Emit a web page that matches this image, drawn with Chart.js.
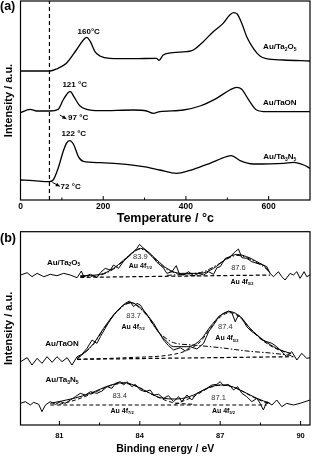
<!DOCTYPE html>
<html><head><meta charset="utf-8">
<script src="https://cdn.jsdelivr.net/npm/chart.js@4/dist/chart.umd.min.js"></script>
<style>
html,body{margin:0;padding:0;background:#fff;}
#wrap{position:relative;width:314px;height:457px;overflow:hidden;}
canvas{position:absolute;left:0;}
#ca{top:0;width:314px;height:228px;}
#cb{top:228px;width:314px;height:229px;}
</style></head><body>
<div id="wrap"><canvas id="ca" width="314" height="228"></canvas><canvas id="cb" width="314" height="229"></canvas></div>
<script>
// ---------- Panel (a): TPR-like curves ----------
const aTa2O5_T = [0,40,71,87,111,135,152,160,169,180,192,216,273,329,335,345,369,402,418,442,466,490,506,515,524,535,547,563,579,595,636,700];
const aTa2O5_I = [387,387,387,393,410,450,480,488,475,445,432,425,424,425,419,435,442,445,450,475,505,530,555,562,558,530,490,455,432,424,420,417];
const aTaON_T  = [0,23,39,71,91,103,115,121,129,144,160,192,273,305,321,337,394,434,474,506,523,535,551,571,595,700];
const aTaON_I  = [262,272,267,267,272,300,322,325,310,282,272,268,270,267,260,265,270,282,305,330,338,332,302,270,265,265];
const aTa3N5_T = [0,31,69,79,91,103,111,119,129,140,152,192,256,297,337,377,418,458,498,510,531,563,636,661,685,700];
const aTa3N5_I = [60,58,55,60,95,145,170,178,165,130,116,112,107,100,90,80,92,110,130,133,118,108,110,113,105,95];
const aMarkerT = 70;
const aTicks = [0,200,400,600];
const aMinorTicks = [100,300,500];

// ---------- Panel (b): XPS Au 4f ----------
const bTa2O5_E = [79.55,79.80,79.98,80.17,80.42,80.66,80.91,81.16,81.41,81.66,81.82,81.91,82.16,82.40,82.53,82.71,82.90,83.02,83.21,83.40,83.58,83.77,83.89,83.99,84.12,84.27,84.39,84.52,84.64,84.76,84.89,85.01,85.20,85.36,85.48,85.63,85.82,86.01,86.19,86.38,86.57,86.75,86.88,87.00,87.19,87.37,87.56,87.68,87.81,87.99,88.18,88.37,88.55,88.74,88.86,88.99,89.17,89.30,89.42,89.61,89.73,89.86,89.98,90.13,90.23,90.35];
const bTa2O5_I = [450,457,445,455,445,452,448,455,450,442,462,445,452,442,457,470,465,480,470,492,505,520,530,542,532,522,510,500,488,480,470,455,460,478,452,450,460,448,455,450,460,452,472,475,500,505,520,528,502,500,490,485,482,475,455,445,460,445,435,455,450,460,440,460,445,450];
const bTa2O5_fitE = [81.78,82.53,83.02,83.40,83.77,84.02,84.27,84.64,85.01,85.51,86.26,86.75,87.25,87.62,87.99,88.37,88.74,88.86];
const bTa2O5_fitI = [448,452,470,495,520,530,522,495,470,455,455,470,500,512,505,490,470,455];
const bTa2O5_c1E = [81.78,82.53,83.02,83.40,83.77,84.02,84.27,84.64,85.01,85.51,86.26];
const bTa2O5_c1I = [445,450,468,493,518,528,520,492,467,453,447];
const bTa2O5_c2E = [85.01,85.76,86.38,86.88,87.25,87.62,87.99,88.37,88.74,88.86];
const bTa2O5_c2I = [449,453,460,480,498,509,502,487,467,455];
const bTa2O5_bgE = [81.78,88.86];
const bTa2O5_bgI = [443,450];

const bTaON_E = [79.55,79.80,79.98,80.17,80.35,80.54,80.73,80.91,81.10,81.29,81.47,81.66,81.84,82.03,82.22,82.40,82.53,82.78,83.02,83.27,83.46,83.62,83.77,83.89,84.02,84.14,84.33,84.52,84.70,84.89,85.07,85.26,85.51,85.70,85.88,86.13,86.38,86.57,86.75,86.94,87.12,87.31,87.43,87.56,87.68,87.81,87.99,88.18,88.37,88.55,88.74,88.93,89.11,89.30,89.48,89.67,89.86,90.04,90.23,90.35];
const bTaON_I = [190,202,180,200,185,205,188,205,190,202,180,205,212,230,255,245,265,300,330,352,365,372,355,365,360,345,325,305,280,255,238,225,232,222,235,228,245,280,300,325,335,342,338,310,330,320,295,280,270,255,250,245,235,220,205,220,195,215,200,202];
const bTaON_fitE = [81.66,81.91,82.28,82.65,83.02,83.40,83.65,83.89,84.27,84.64,85.01,85.26,85.76,86.26,86.63,87.00,87.37,87.75,88.12,88.61,89.11,89.61];
const bTaON_fitI = [200,215,245,290,330,360,368,360,330,285,250,235,235,255,295,328,340,325,290,255,230,215];
const bTaON_c1E = [81.66,82.28,82.65,83.02,83.40,83.65,83.89,84.27,84.64,85.01,85.26,86.00,87.00,88.00,89.00,89.73];
const bTaON_c1I = [198,243,288,328,358,366,358,328,285,258,247,240,232,222,215,208];
const bTaON_c2E = [81.66,83.50,85.26,85.76,86.26,86.63,87.00,87.37,87.75,88.12,88.61,89.11,89.73];
const bTaON_c2I = [197,202,212,224,250,290,324,337,322,288,252,228,212];
const bTaON_bgE = [81.66,89.73];
const bTaON_bgI = [197,205];

const bTa3N5_E = [79.55,79.73,79.92,80.04,80.23,80.35,80.48,80.66,80.85,81.04,81.22,81.41,81.60,81.78,81.97,82.16,82.40,82.59,82.78,82.96,83.09,83.27,83.40,83.52,83.71,83.83,84.02,84.20,84.39,84.52,84.70,84.89,85.07,85.26,85.45,85.57,85.76,85.94,86.13,86.32,86.50,86.69,86.88,87.00,87.12,87.31,87.50,87.65,87.81,87.99,88.18,88.37,88.49,88.61,88.74,88.93,89.11,89.30,89.48,89.73,89.98,90.35];
const bTa3N5_I = [65,70,60,68,62,40,60,70,62,70,65,75,85,95,90,100,95,102,115,110,125,130,120,130,115,122,105,100,105,90,92,80,88,70,85,70,90,75,95,102,110,120,122,130,118,122,105,115,95,85,70,80,65,45,70,60,75,55,65,60,65,75];
const bTa3N5_fitE = [80.66,81.54,82.16,82.65,83.15,83.40,83.77,84.27,84.76,85.39,86.01,86.50,87.00,87.37,87.87,88.37,88.86];
const bTa3N5_fitI = [65,80,95,112,125,127,120,100,82,78,90,110,120,117,100,80,65];
const bTa3N5_c1E = [81.00,81.60,82.16,82.90,83.40,83.90,84.50,85.20,86.00];
const bTa3N5_c1I = [62,75,92,118,125,115,90,68,62];
const bTa3N5_c2E = [85.30,86.00,86.60,87.10,87.60,88.20,88.80];
const bTa3N5_c2I = [62,85,112,120,110,85,63];
const bTa3N5_bgE = [80.66,88.74];
const bTa3N5_bgI = [60,60];

const bTicks = [81,84,87,90];
const bMinorTicks = [82.5,85.5,88.5];

// ---------- helpers ----------
const FONT = '"Liberation Sans", Arial, Helvetica, sans-serif';
const pts = (xs, ys) => xs.map((x, i) => ({x, y: ys[i]}));

function line(xs, ys, o) {
  return Object.assign({
    data: pts(xs, ys), showLine: true, pointRadius: 0, borderColor: '#000',
    borderWidth: 1, fill: false, tension: 0
  }, o || {});
}

function drawRich(ctx, str, x, y, size, weight, align, color) {
  const parts = []; const re = /_\{([^}]*)\}|_(.)/g; let last = 0, m;
  while ((m = re.exec(str))) {
    if (m.index > last) parts.push({t: str.slice(last, m.index), s: false});
    parts.push({t: m[1] !== undefined ? m[1] : m[2], s: true});
    last = re.lastIndex;
  }
  if (last < str.length) parts.push({t: str.slice(last), s: false});
  const fN = `${weight} ${size}px ${FONT}`;
  const fS = `${weight} ${Math.round(size * 0.62)}px ${FONT}`;
  let w = 0;
  parts.forEach(p => { ctx.font = p.s ? fS : fN; p.w = ctx.measureText(p.t).width; w += p.w; });
  let cx = align === 'left' ? x : align === 'right' ? x - w : x - w / 2;
  ctx.textBaseline = 'middle'; ctx.textAlign = 'left'; ctx.fillStyle = color || '#000';
  parts.forEach(p => { ctx.font = p.s ? fS : fN; ctx.fillText(p.t, cx, p.s ? y + size * 0.32 : y); cx += p.w; });
}

const decorPlugin = {
  id: 'decor',
  afterDatasetsDraw(chart, args, opts) {
    const {ctx, chartArea: a, scales: {x, y}} = chart;
    ctx.save();
    ctx.strokeStyle = '#000'; ctx.lineWidth = 1.2; ctx.setLineDash([]);
    ctx.strokeRect(a.left, a.top, a.right - a.left, a.bottom - a.top);
    ctx.lineWidth = 1;
    (opts.major || []).forEach(v => { const px = x.getPixelForValue(v); ctx.beginPath(); ctx.moveTo(px, a.bottom); ctx.lineTo(px, a.bottom - 4); ctx.stroke(); });
    (opts.minor || []).forEach(v => { const px = x.getPixelForValue(v); ctx.beginPath(); ctx.moveTo(px, a.bottom); ctx.lineTo(px, a.bottom - 2.5); ctx.stroke(); });
    (opts.arrows || []).forEach(ar => {
      const x1 = x.getPixelForValue(ar[0]), y1 = y.getPixelForValue(ar[1]);
      const x2 = x.getPixelForValue(ar[2]), y2 = y.getPixelForValue(ar[3]);
      ctx.beginPath(); ctx.moveTo(x1, y1); ctx.lineTo(x2, y2); ctx.stroke();
      const ang = Math.atan2(y2 - y1, x2 - x1), L = 4.5, W = 0.45;
      ctx.beginPath(); ctx.moveTo(x2, y2);
      ctx.lineTo(x2 - L * Math.cos(ang - W), y2 - L * Math.sin(ang - W));
      ctx.lineTo(x2 - L * Math.cos(ang + W), y2 - L * Math.sin(ang + W));
      ctx.closePath(); ctx.fillStyle = '#000'; ctx.fill();
    });
    (opts.labels || []).forEach(l => {
      drawRich(ctx, l.t, x.getPixelForValue(l.x), y.getPixelForValue(l.y), l.size || 8, l.w || 'bold', l.align || 'center', l.c);
    });
    if (opts.panel) {
      drawRich(ctx, opts.panel, 0, opts.panelY, 12.5, 'bold', 'left');
    }
    ctx.restore();
  }
};

function makeOptions(cfg) {
  return {
    responsive: false, animation: false, devicePixelRatio: 1,
    layout: {padding: {top: cfg.padTop, right: 4, left: 0, bottom: 0}},
    plugins: {legend: {display: false}, tooltip: {enabled: false}, decor: cfg.decor},
    scales: {
      x: {
        type: 'linear', min: cfg.xmin, max: cfg.xmax,
        afterBuildTicks: s => { s.ticks = cfg.ticks.map(v => ({value: v})); },
        afterFit: s => { s.height = cfg.xh; },
        grid: {display: false, drawTicks: false},
        border: {display: false},
        ticks: {color: '#000', font: {family: FONT, size: cfg.tickSize, weight: 'bold'}, padding: cfg.tickPad, maxRotation: 0},
        title: {display: true, text: cfg.xtitle, color: '#000', font: {family: FONT, size: cfg.xtitleSize, weight: 'bold'}, padding: {top: 0, bottom: cfg.xtitlePad}}
      },
      y: {
        type: 'linear', min: cfg.ymin, max: cfg.ymax,
        afterFit: s => { s.width = 20.5; },
        grid: {display: false, drawTicks: false},
        border: {display: false},
        ticks: {display: false},
        title: {display: true, text: 'Intensity / a.u.', color: '#000', font: {family: FONT, size: cfg.ytitleSize, weight: 'bold'}, padding: {top: 2, bottom: 0}}
      }
    }
  };
}

Chart.register(decorPlugin);

// ---------- Chart A ----------
new Chart(document.getElementById('ca'), {
  type: 'scatter',
  data: {datasets: [
    line(aTa2O5_T, aTa2O5_I, {borderWidth: 1.3, cubicInterpolationMode: 'monotone'}),
    line(aTaON_T, aTaON_I, {borderWidth: 1.3, cubicInterpolationMode: 'monotone'}),
    line(aTa3N5_T, aTa3N5_I, {borderWidth: 1.3, cubicInterpolationMode: 'monotone'}),
    line([aMarkerT, aMarkerT], [0, 597], {borderWidth: 1.2, borderDash: [4, 3]})
  ]},
  options: makeOptions({
    padTop: 1, xmin: 0, xmax: 700, ymin: 0, ymax: 597, ticks: aTicks, xh: 28,
    tickSize: 8.5, tickPad: 2, xtitle: 'Temperature / °c', xtitleSize: 12.5, xtitlePad: 2, ytitleSize: 11,
    decor: {
      major: aTicks, minor: aMinorTicks, panel: '(a)', panelY: 7,
      arrows: [[95, 255, 111, 243], [77, 53, 95, 41]],
      labels: [
        {t: '160°C', x: 165, y: 505},
        {t: '121 °C', x: 131, y: 345},
        {t: '97 °C', x: 115, y: 247, align: 'left'},
        {t: '122 °C', x: 129, y: 200},
        {t: '72 °C', x: 97, y: 40, align: 'left'},
        {t: 'Au/Ta_2O_5', x: 627, y: 460},
        {t: 'Au/TaON', x: 627, y: 293},
        {t: 'Au/Ta_3N_5', x: 627, y: 130}
      ]
    }
  })
});

// ---------- Chart B ----------
const dash = [4, 2.5], dashDot = [5, 2, 1.5, 2];
new Chart(document.getElementById('cb'), {
  type: 'scatter',
  data: {datasets: [
    line(bTa2O5_E, bTa2O5_I),
    line(bTa2O5_fitE, bTa2O5_fitI, {cubicInterpolationMode: 'monotone'}),
    line(bTa2O5_c1E, bTa2O5_c1I, {cubicInterpolationMode: 'monotone', borderDash: dashDot}),
    line(bTa2O5_c2E, bTa2O5_c2I, {cubicInterpolationMode: 'monotone', borderDash: dashDot}),
    line(bTa2O5_bgE, bTa2O5_bgI, {borderDash: dash, borderWidth: 1.2}),
    line(bTaON_E, bTaON_I),
    line(bTaON_fitE, bTaON_fitI, {cubicInterpolationMode: 'monotone'}),
    line(bTaON_c1E, bTaON_c1I, {cubicInterpolationMode: 'monotone', borderDash: dashDot}),
    line(bTaON_c2E, bTaON_c2I, {cubicInterpolationMode: 'monotone', borderDash: dash}),
    line(bTaON_bgE, bTaON_bgI, {borderDash: dash, borderWidth: 1.2}),
    line(bTa3N5_E, bTa3N5_I),
    line(bTa3N5_fitE, bTa3N5_fitI, {cubicInterpolationMode: 'monotone'}),
    line(bTa3N5_c1E, bTa3N5_c1I, {cubicInterpolationMode: 'monotone', borderDash: dash}),
    line(bTa3N5_c2E, bTa3N5_c2I, {cubicInterpolationMode: 'monotone', borderDash: dash}),
    line(bTa3N5_bgE, bTa3N5_bgI, {borderDash: dash, borderWidth: 1.2})
  ]},
  options: makeOptions({
    padTop: 3.7, xmin: 79.55, xmax: 90.35, ymin: 0, ymax: 580, ticks: bTicks, xh: 32,
    tickSize: 7.5, tickPad: 6.5, xtitle: 'Binding energy / eV', xtitleSize: 10.5, xtitlePad: 1.5, ytitleSize: 11,
    decor: {
      major: bTicks, minor: bMinorTicks, panel: '(b)', panelY: 11,
      labels: [
        {t: 'Au/Ta_2O_5', x: 81.16, y: 488, size: 8},
        {t: '83.9', x: 84.02, y: 503, size: 7.5, w: 'normal', c: '#333'},
        {t: 'Au 4f_{7/2}', x: 84.02, y: 477, size: 7},
        {t: '87.6', x: 87.68, y: 470, size: 7.5, w: 'normal', c: '#333'},
        {t: 'Au 4f_{5/2}', x: 87.81, y: 430, size: 7},
        {t: '83.7', x: 83.77, y: 328, size: 7.5, w: 'normal', c: '#333'},
        {t: 'Au 4f_{7/2}', x: 83.75, y: 295, size: 7},
        {t: '87.4', x: 87.19, y: 295, size: 7.5, w: 'normal', c: '#333'},
        {t: 'Au 4f_{5/2}', x: 87.25, y: 260, size: 7},
        {t: 'Au/TaON', x: 81.1, y: 245, size: 8},
        {t: 'Au/Ta_3N_5', x: 81.1, y: 135, size: 8},
        {t: '83.4', x: 83.25, y: 87, size: 7.5, w: 'normal', c: '#333'},
        {t: 'Au 4f_{7/2}', x: 83.34, y: 43, size: 7},
        {t: '87.1', x: 86.94, y: 82, size: 7.5, w: 'normal', c: '#333'},
        {t: 'Au 4f_{5/2}', x: 87.12, y: 43, size: 7}
      ]
    }
  })
});
</script>
</body></html>
